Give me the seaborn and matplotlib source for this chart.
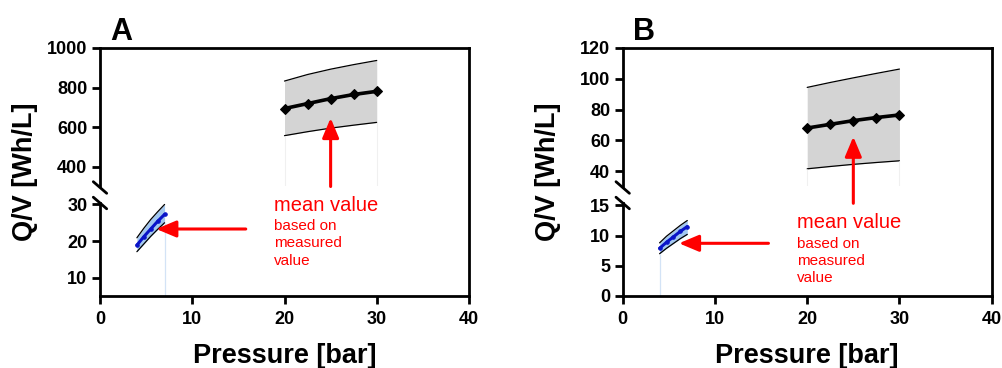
import numpy as np
import matplotlib
matplotlib.use("Agg")
import matplotlib.pyplot as plt
import seaborn as sns

# data
p_gray = [20, 22.5, 25, 27.5, 30]
p_blue = [4, 4.75, 5.5, 6.25, 7]

a_gray_mean = [694, 719, 744, 765, 781]
a_gray_hi = [833, 866, 893, 916, 937]
a_gray_lo = [557, 577, 595, 610, 624]
a_blue_mean = [18.9, 21.2, 23.3, 25.4, 27.3]
a_blue_hi = [20.9, 23.5, 25.9, 28.0, 30.0]
a_blue_lo = [17.1, 19.2, 21.3, 23.2, 25.0]

b_gray_mean = [68.0, 70.4, 72.8, 74.8, 76.5]
b_gray_hi = [94.4, 97.6, 100.6, 103.5, 106.3]
b_gray_lo = [41.5, 43.0, 44.4, 45.6, 46.7]
b_blue_mean = [7.9, 8.9, 9.8, 10.7, 11.5]
b_blue_hi = [8.8, 9.9, 10.8, 11.7, 12.5]
b_blue_lo = [7.0, 7.9, 8.7, 9.5, 10.2]

x_ticks = [0, 10, 20, 30, 40]

sns.set_style("ticks")
plt.rcParams['font.family'] = ['Liberation Sans', 'DejaVu Sans']
plt.rcParams.update({'text.color': 'k', 'axes.labelcolor': 'k',
                     'xtick.color': 'k', 'ytick.color': 'k',
                     'axes.edgecolor': 'k'})

W, H = 1003, 368
fig = plt.figure(figsize=(W / 100, H / 100), dpi=100)

LW = 2.0
RED = '#ff0000'


def fx(px):
    return px / W


def fy(py):
    return 1 - py / H


def panel(left, right, letter, up_lim, up_ticks, lo_lim, lo_ticks,
          g_mean, g_hi, g_lo, b_mean, b_hi, b_lo, blue_edge_x, ann):
    top, bot, up_bot, lo_top = 48, 296, 186.5, 203
    w = fx(right) - fx(left)
    up = fig.add_axes([fx(left), fy(up_bot), w, fy(top) - fy(up_bot)], zorder=1)
    lo = fig.add_axes([fx(left), fy(bot), w, fy(lo_top) - fy(bot)], zorder=1)
    # box with x axis, drawn on top so the arrows sit above the bands
    frame = fig.add_axes([fx(left), fy(bot), w, fy(top) - fy(bot)], zorder=2)
    frame.patch.set_alpha(0)

    frame.set_xlim(0, 40)
    frame.set_ylim(0, 1)
    frame.set_xticks(x_ticks)
    frame.set_yticks([])
    frame.spines['left'].set_visible(False)
    for s in ['top', 'right', 'bottom']:
        frame.spines[s].set_linewidth(LW)
    frame.tick_params(axis='x', length=6, width=LW, pad=5, labelsize=13)
    for t in frame.get_xticklabels():
        t.set_fontweight('bold')

    for ax, lim, ticks in [(up, up_lim, up_ticks), (lo, lo_lim, lo_ticks)]:
        ax.patch.set_alpha(0)
        ax.set_xlim(0, 40)
        ax.set_ylim(*lim)
        ax.set_yticks(ticks)
        ax.set_xticks([])
        for s in ['top', 'right', 'bottom']:
            ax.spines[s].set_visible(False)
        ax.spines['left'].set_linewidth(LW)
        ax.tick_params(axis='y', length=6, width=LW, pad=3, labelsize=13)
        for t in ax.get_yticklabels():
            t.set_fontweight('bold')

    # gray band (upper part)
    up.fill_between(p_gray, g_lo, g_hi, color='#d4d4d4', lw=0)
    up.plot(p_gray, g_hi, color='k', lw=0.9)
    up.plot(p_gray, g_lo, color='k', lw=0.9)
    up.vlines([p_gray[0], p_gray[-1]], up_lim[0], [g_lo[0], g_lo[-1]],
              color='#f0f0f0', lw=0.8)
    sns.lineplot(x=p_gray, y=g_mean, ax=up, color='k', lw=2.6, marker='D',
                 markersize=5.5, markeredgecolor='k')

    # blue band (lower part)
    lo.fill_between(p_blue, b_lo, b_hi, color='#a3c8f0', lw=0)
    lo.plot(p_blue, b_hi, color='k', lw=0.9)
    lo.plot(p_blue, b_lo, color='k', lw=0.9)
    i = p_blue.index(blue_edge_x)
    lo.vlines(blue_edge_x, lo_lim[0], b_lo[i], color='#d3e3f6', lw=0.9)
    sns.lineplot(x=p_blue, y=b_mean, ax=lo, color='#0a14c8', lw=2.2,
                 marker='o', markersize=2.5, markeredgecolor='#0a14c8')

    # axis break marks
    for cy in (up_bot + 1, lo_top):
        fig.add_artist(plt.Line2D([fx(left - 6.7), fx(left + 6.7)],
                                  [fy(cy - 5.8), fy(cy + 5.8)],
                                  color='k', lw=LW))

    def fr(py):
        return (bot - py) / (bot - top)

    # annotations in the frame axes (x in bar, y as box fraction)
    arrow = dict(arrowstyle='-|>,head_length=1.0,head_width=0.42',
                 color=RED, lw=2.2, mutation_scale=12, shrinkA=0, shrinkB=0)
    frame.annotate('', xy=(25, fr(ann['v_tip'])), xytext=(25, fr(ann['v_tail'])),
                   arrowprops=arrow)
    frame.annotate('', xy=(6.1, fr(ann['h_y'])), xytext=(15.8, fr(ann['h_y'])),
                   arrowprops=arrow)
    frame.text(18.9, fr(ann['t_y']), 'mean value', color=RED, fontsize=14.5,
               va='baseline', ha='left')
    for k, line in enumerate(['based on', 'measured', 'value']):
        frame.text(18.9, fr(ann['t_y'] + 19.3 + 17.4 * k), line, color=RED,
                   fontsize=11, va='baseline', ha='left')

    fig.text(fx(left + 10), fy(40), letter, fontsize=22, fontweight='bold',
             ha='left', va='baseline')
    fig.text(fx((left + right) / 2), fy(363), 'Pressure [bar]', fontsize=19.5,
             fontweight='bold', ha='center', va='baseline')
    fig.text(fx(left - 75), fy(172), 'Q/V [Wh/L]', fontsize=19.5,
             fontweight='bold', ha='center', va='center', rotation=90)


panel(100, 469, 'A', (300, 1000), [400, 600, 800, 1000], (5, 30.4), [10, 20, 30],
      a_gray_mean, a_gray_hi, a_gray_lo, a_blue_mean, a_blue_hi, a_blue_lo, 7,
      dict(v_tip=118, v_tail=186.5, h_y=229, t_y=210.7))
panel(622.7, 991.7, 'B', (30, 120), [40, 60, 80, 100, 120], (0, 15.4), [0, 5, 10, 15],
      b_gray_mean, b_gray_hi, b_gray_lo, b_blue_mean, b_blue_hi, b_blue_lo, 4,
      dict(v_tip=136.7, v_tail=203.3, h_y=243.3, t_y=228.3))

fig.savefig('out.png', dpi=100)
